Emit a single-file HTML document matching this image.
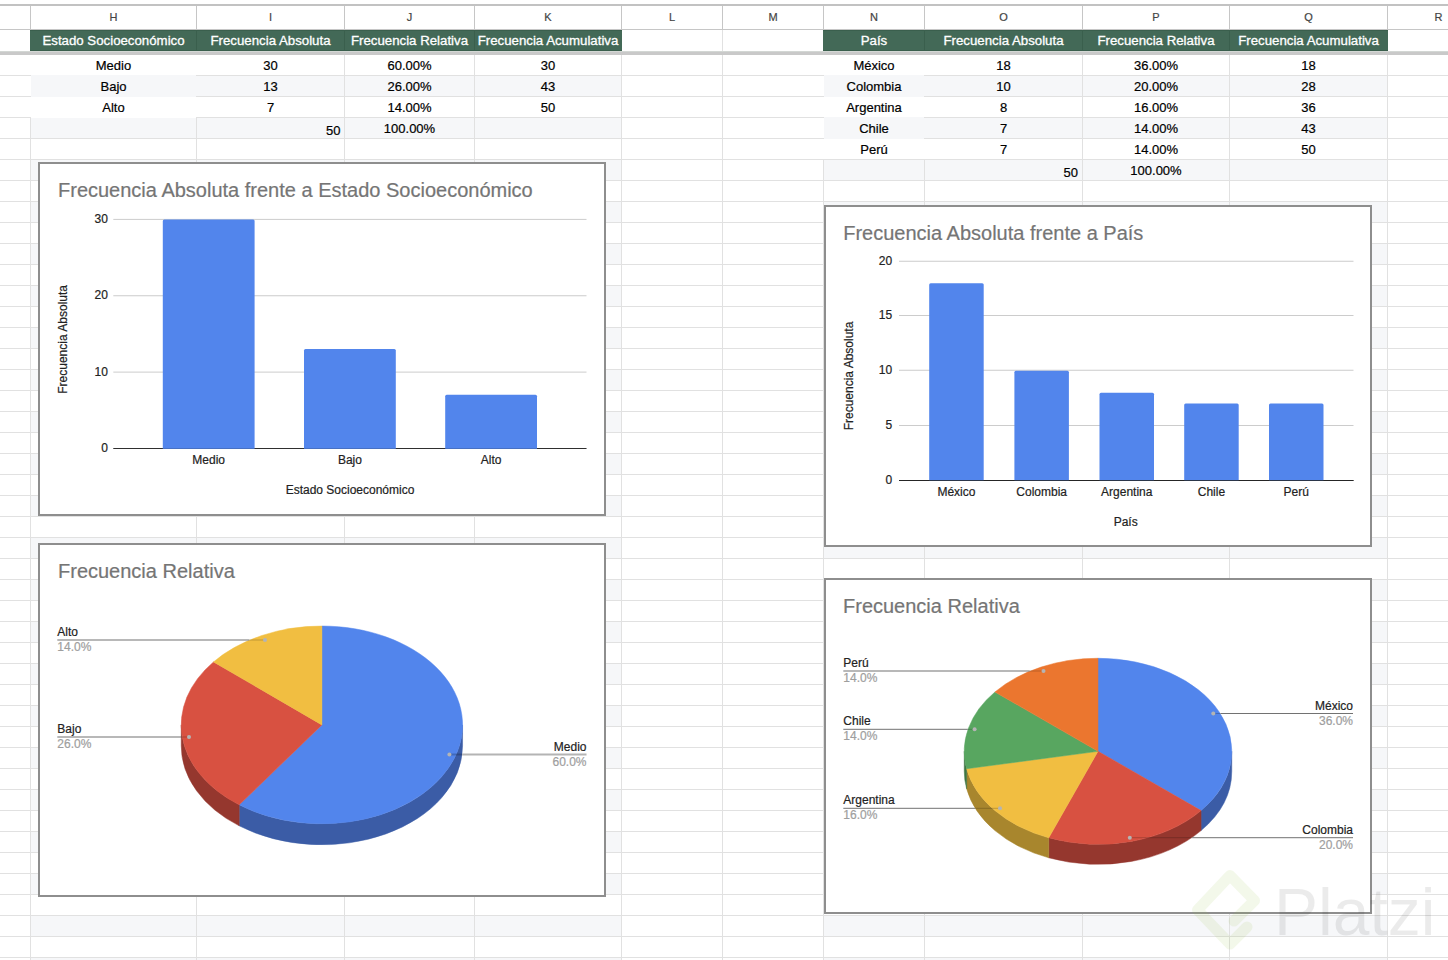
<!DOCTYPE html>
<html><head><meta charset="utf-8"><style>
html,body{margin:0;padding:0;background:#fff;overflow:hidden;}
svg{display:block;font-family:"Liberation Sans",sans-serif;}
</style></head><body>
<svg width="1448" height="960" viewBox="0 0 1448 960">
<rect x="0" y="0" width="1448" height="960" fill="#fff"/>
<rect x="0" y="4" width="1448" height="2" fill="#c2c2c2" shape-rendering="crispEdges"/>
<rect x="0" y="29" width="1448" height="1" fill="#c6c6c6" shape-rendering="crispEdges"/>
<rect x="30" y="6" width="1" height="23" fill="#c6c6c6" shape-rendering="crispEdges"/>
<rect x="196" y="6" width="1" height="23" fill="#c6c6c6" shape-rendering="crispEdges"/>
<rect x="344" y="6" width="1" height="23" fill="#c6c6c6" shape-rendering="crispEdges"/>
<rect x="474" y="6" width="1" height="23" fill="#c6c6c6" shape-rendering="crispEdges"/>
<rect x="621" y="6" width="1" height="23" fill="#c6c6c6" shape-rendering="crispEdges"/>
<rect x="722" y="6" width="1" height="23" fill="#c6c6c6" shape-rendering="crispEdges"/>
<rect x="823" y="6" width="1" height="23" fill="#c6c6c6" shape-rendering="crispEdges"/>
<rect x="924" y="6" width="1" height="23" fill="#c6c6c6" shape-rendering="crispEdges"/>
<rect x="1082" y="6" width="1" height="23" fill="#c6c6c6" shape-rendering="crispEdges"/>
<rect x="1229" y="6" width="1" height="23" fill="#c6c6c6" shape-rendering="crispEdges"/>
<rect x="1387" y="6" width="1" height="23" fill="#c6c6c6" shape-rendering="crispEdges"/>
<rect x="31" y="76" width="590" height="20" fill="#f6f7f9" shape-rendering="crispEdges"/>
<rect x="824" y="76" width="563" height="20" fill="#f6f7f9" shape-rendering="crispEdges"/>
<rect x="31" y="118" width="590" height="20" fill="#f6f7f9" shape-rendering="crispEdges"/>
<rect x="824" y="118" width="563" height="20" fill="#f6f7f9" shape-rendering="crispEdges"/>
<rect x="31" y="160" width="590" height="20" fill="#f6f7f9" shape-rendering="crispEdges"/>
<rect x="824" y="160" width="563" height="20" fill="#f6f7f9" shape-rendering="crispEdges"/>
<rect x="31" y="202" width="590" height="20" fill="#f6f7f9" shape-rendering="crispEdges"/>
<rect x="824" y="202" width="563" height="20" fill="#f6f7f9" shape-rendering="crispEdges"/>
<rect x="31" y="244" width="590" height="20" fill="#f6f7f9" shape-rendering="crispEdges"/>
<rect x="824" y="244" width="563" height="20" fill="#f6f7f9" shape-rendering="crispEdges"/>
<rect x="31" y="286" width="590" height="20" fill="#f6f7f9" shape-rendering="crispEdges"/>
<rect x="824" y="286" width="563" height="20" fill="#f6f7f9" shape-rendering="crispEdges"/>
<rect x="31" y="328" width="590" height="20" fill="#f6f7f9" shape-rendering="crispEdges"/>
<rect x="824" y="328" width="563" height="20" fill="#f6f7f9" shape-rendering="crispEdges"/>
<rect x="31" y="370" width="590" height="20" fill="#f6f7f9" shape-rendering="crispEdges"/>
<rect x="824" y="370" width="563" height="20" fill="#f6f7f9" shape-rendering="crispEdges"/>
<rect x="31" y="412" width="590" height="20" fill="#f6f7f9" shape-rendering="crispEdges"/>
<rect x="824" y="412" width="563" height="20" fill="#f6f7f9" shape-rendering="crispEdges"/>
<rect x="31" y="454" width="590" height="20" fill="#f6f7f9" shape-rendering="crispEdges"/>
<rect x="824" y="454" width="563" height="20" fill="#f6f7f9" shape-rendering="crispEdges"/>
<rect x="31" y="496" width="590" height="20" fill="#f6f7f9" shape-rendering="crispEdges"/>
<rect x="824" y="496" width="563" height="20" fill="#f6f7f9" shape-rendering="crispEdges"/>
<rect x="31" y="538" width="590" height="20" fill="#f6f7f9" shape-rendering="crispEdges"/>
<rect x="824" y="538" width="563" height="20" fill="#f6f7f9" shape-rendering="crispEdges"/>
<rect x="31" y="580" width="590" height="20" fill="#f6f7f9" shape-rendering="crispEdges"/>
<rect x="824" y="580" width="563" height="20" fill="#f6f7f9" shape-rendering="crispEdges"/>
<rect x="31" y="622" width="590" height="20" fill="#f6f7f9" shape-rendering="crispEdges"/>
<rect x="824" y="622" width="563" height="20" fill="#f6f7f9" shape-rendering="crispEdges"/>
<rect x="31" y="664" width="590" height="20" fill="#f6f7f9" shape-rendering="crispEdges"/>
<rect x="824" y="664" width="563" height="20" fill="#f6f7f9" shape-rendering="crispEdges"/>
<rect x="31" y="706" width="590" height="20" fill="#f6f7f9" shape-rendering="crispEdges"/>
<rect x="824" y="706" width="563" height="20" fill="#f6f7f9" shape-rendering="crispEdges"/>
<rect x="31" y="748" width="590" height="20" fill="#f6f7f9" shape-rendering="crispEdges"/>
<rect x="824" y="748" width="563" height="20" fill="#f6f7f9" shape-rendering="crispEdges"/>
<rect x="31" y="790" width="590" height="20" fill="#f6f7f9" shape-rendering="crispEdges"/>
<rect x="824" y="790" width="563" height="20" fill="#f6f7f9" shape-rendering="crispEdges"/>
<rect x="31" y="832" width="590" height="20" fill="#f6f7f9" shape-rendering="crispEdges"/>
<rect x="824" y="832" width="563" height="20" fill="#f6f7f9" shape-rendering="crispEdges"/>
<rect x="31" y="874" width="590" height="20" fill="#f6f7f9" shape-rendering="crispEdges"/>
<rect x="824" y="874" width="563" height="20" fill="#f6f7f9" shape-rendering="crispEdges"/>
<rect x="31" y="916" width="590" height="20" fill="#f6f7f9" shape-rendering="crispEdges"/>
<rect x="824" y="916" width="563" height="20" fill="#f6f7f9" shape-rendering="crispEdges"/>
<rect x="31" y="958" width="590" height="20" fill="#f6f7f9" shape-rendering="crispEdges"/>
<rect x="824" y="958" width="563" height="20" fill="#f6f7f9" shape-rendering="crispEdges"/>
<rect x="0" y="75" width="31" height="1" fill="#e1e1e1" shape-rendering="crispEdges"/>
<rect x="196" y="75" width="628" height="1" fill="#e1e1e1" shape-rendering="crispEdges"/>
<rect x="924" y="75" width="524" height="1" fill="#e1e1e1" shape-rendering="crispEdges"/>
<rect x="0" y="96" width="31" height="1" fill="#e1e1e1" shape-rendering="crispEdges"/>
<rect x="196" y="96" width="628" height="1" fill="#e1e1e1" shape-rendering="crispEdges"/>
<rect x="924" y="96" width="524" height="1" fill="#e1e1e1" shape-rendering="crispEdges"/>
<rect x="0" y="117" width="31" height="1" fill="#e1e1e1" shape-rendering="crispEdges"/>
<rect x="196" y="117" width="628" height="1" fill="#e1e1e1" shape-rendering="crispEdges"/>
<rect x="924" y="117" width="524" height="1" fill="#e1e1e1" shape-rendering="crispEdges"/>
<rect x="0" y="138" width="824" height="1" fill="#e1e1e1" shape-rendering="crispEdges"/>
<rect x="924" y="138" width="524" height="1" fill="#e1e1e1" shape-rendering="crispEdges"/>
<rect x="0" y="159" width="1448" height="1" fill="#e1e1e1" shape-rendering="crispEdges"/>
<rect x="0" y="180" width="1448" height="1" fill="#e1e1e1" shape-rendering="crispEdges"/>
<rect x="0" y="201" width="1448" height="1" fill="#e1e1e1" shape-rendering="crispEdges"/>
<rect x="0" y="222" width="1448" height="1" fill="#e1e1e1" shape-rendering="crispEdges"/>
<rect x="0" y="243" width="1448" height="1" fill="#e1e1e1" shape-rendering="crispEdges"/>
<rect x="0" y="264" width="1448" height="1" fill="#e1e1e1" shape-rendering="crispEdges"/>
<rect x="0" y="285" width="1448" height="1" fill="#e1e1e1" shape-rendering="crispEdges"/>
<rect x="0" y="306" width="1448" height="1" fill="#e1e1e1" shape-rendering="crispEdges"/>
<rect x="0" y="327" width="1448" height="1" fill="#e1e1e1" shape-rendering="crispEdges"/>
<rect x="0" y="348" width="1448" height="1" fill="#e1e1e1" shape-rendering="crispEdges"/>
<rect x="0" y="369" width="1448" height="1" fill="#e1e1e1" shape-rendering="crispEdges"/>
<rect x="0" y="390" width="1448" height="1" fill="#e1e1e1" shape-rendering="crispEdges"/>
<rect x="0" y="411" width="1448" height="1" fill="#e1e1e1" shape-rendering="crispEdges"/>
<rect x="0" y="432" width="1448" height="1" fill="#e1e1e1" shape-rendering="crispEdges"/>
<rect x="0" y="453" width="1448" height="1" fill="#e1e1e1" shape-rendering="crispEdges"/>
<rect x="0" y="474" width="1448" height="1" fill="#e1e1e1" shape-rendering="crispEdges"/>
<rect x="0" y="495" width="1448" height="1" fill="#e1e1e1" shape-rendering="crispEdges"/>
<rect x="0" y="516" width="1448" height="1" fill="#e1e1e1" shape-rendering="crispEdges"/>
<rect x="0" y="537" width="1448" height="1" fill="#e1e1e1" shape-rendering="crispEdges"/>
<rect x="0" y="558" width="1448" height="1" fill="#e1e1e1" shape-rendering="crispEdges"/>
<rect x="0" y="579" width="1448" height="1" fill="#e1e1e1" shape-rendering="crispEdges"/>
<rect x="0" y="600" width="1448" height="1" fill="#e1e1e1" shape-rendering="crispEdges"/>
<rect x="0" y="621" width="1448" height="1" fill="#e1e1e1" shape-rendering="crispEdges"/>
<rect x="0" y="642" width="1448" height="1" fill="#e1e1e1" shape-rendering="crispEdges"/>
<rect x="0" y="663" width="1448" height="1" fill="#e1e1e1" shape-rendering="crispEdges"/>
<rect x="0" y="684" width="1448" height="1" fill="#e1e1e1" shape-rendering="crispEdges"/>
<rect x="0" y="705" width="1448" height="1" fill="#e1e1e1" shape-rendering="crispEdges"/>
<rect x="0" y="726" width="1448" height="1" fill="#e1e1e1" shape-rendering="crispEdges"/>
<rect x="0" y="747" width="1448" height="1" fill="#e1e1e1" shape-rendering="crispEdges"/>
<rect x="0" y="768" width="1448" height="1" fill="#e1e1e1" shape-rendering="crispEdges"/>
<rect x="0" y="789" width="1448" height="1" fill="#e1e1e1" shape-rendering="crispEdges"/>
<rect x="0" y="810" width="1448" height="1" fill="#e1e1e1" shape-rendering="crispEdges"/>
<rect x="0" y="831" width="1448" height="1" fill="#e1e1e1" shape-rendering="crispEdges"/>
<rect x="0" y="852" width="1448" height="1" fill="#e1e1e1" shape-rendering="crispEdges"/>
<rect x="0" y="873" width="1448" height="1" fill="#e1e1e1" shape-rendering="crispEdges"/>
<rect x="0" y="894" width="1448" height="1" fill="#e1e1e1" shape-rendering="crispEdges"/>
<rect x="0" y="915" width="1448" height="1" fill="#e1e1e1" shape-rendering="crispEdges"/>
<rect x="0" y="936" width="1448" height="1" fill="#e1e1e1" shape-rendering="crispEdges"/>
<rect x="0" y="957" width="1448" height="1" fill="#e1e1e1" shape-rendering="crispEdges"/>
<rect x="31" y="75" width="165" height="1" fill="#f6f7f9" shape-rendering="crispEdges"/>
<rect x="31" y="96" width="165" height="1" fill="#f6f7f9" shape-rendering="crispEdges"/>
<rect x="824" y="75" width="100" height="1" fill="#f6f7f9" shape-rendering="crispEdges"/>
<rect x="824" y="96" width="100" height="1" fill="#f6f7f9" shape-rendering="crispEdges"/>
<rect x="824" y="117" width="100" height="1" fill="#f6f7f9" shape-rendering="crispEdges"/>
<rect x="824" y="138" width="100" height="1" fill="#f6f7f9" shape-rendering="crispEdges"/>
<rect x="30" y="30" width="1" height="25" fill="#e1e1e1" shape-rendering="crispEdges"/>
<rect x="30" y="118" width="1" height="842" fill="#e1e1e1" shape-rendering="crispEdges"/>
<rect x="196" y="30" width="1" height="25" fill="#e1e1e1" shape-rendering="crispEdges"/>
<rect x="196" y="118" width="1" height="842" fill="#e1e1e1" shape-rendering="crispEdges"/>
<rect x="344" y="30" width="1" height="930" fill="#e1e1e1" shape-rendering="crispEdges"/>
<rect x="474" y="30" width="1" height="930" fill="#e1e1e1" shape-rendering="crispEdges"/>
<rect x="621" y="30" width="1" height="930" fill="#e1e1e1" shape-rendering="crispEdges"/>
<rect x="722" y="30" width="1" height="930" fill="#e1e1e1" shape-rendering="crispEdges"/>
<rect x="823" y="30" width="1" height="25" fill="#e1e1e1" shape-rendering="crispEdges"/>
<rect x="823" y="160" width="1" height="800" fill="#e1e1e1" shape-rendering="crispEdges"/>
<rect x="924" y="30" width="1" height="25" fill="#e1e1e1" shape-rendering="crispEdges"/>
<rect x="924" y="160" width="1" height="800" fill="#e1e1e1" shape-rendering="crispEdges"/>
<rect x="1082" y="30" width="1" height="930" fill="#e1e1e1" shape-rendering="crispEdges"/>
<rect x="1229" y="30" width="1" height="930" fill="#e1e1e1" shape-rendering="crispEdges"/>
<rect x="1387" y="30" width="1" height="930" fill="#e1e1e1" shape-rendering="crispEdges"/>
<rect x="30" y="30" width="592" height="21" fill="#436957" shape-rendering="crispEdges"/>
<rect x="823" y="30" width="565" height="21" fill="#436957" shape-rendering="crispEdges"/>
<rect x="30" y="30" width="592" height="1" fill="#3a5f4d" shape-rendering="crispEdges"/>
<rect x="30" y="50" width="592" height="1" fill="#3a5f4d" shape-rendering="crispEdges"/>
<rect x="823" y="30" width="565" height="1" fill="#3a5f4d" shape-rendering="crispEdges"/>
<rect x="823" y="50" width="565" height="1" fill="#3a5f4d" shape-rendering="crispEdges"/>
<rect x="196" y="31" width="1" height="19" fill="#3a5f4d" shape-rendering="crispEdges"/>
<rect x="344" y="31" width="1" height="19" fill="#3a5f4d" shape-rendering="crispEdges"/>
<rect x="474" y="31" width="1" height="19" fill="#3a5f4d" shape-rendering="crispEdges"/>
<rect x="924" y="31" width="1" height="19" fill="#3a5f4d" shape-rendering="crispEdges"/>
<rect x="1082" y="31" width="1" height="19" fill="#3a5f4d" shape-rendering="crispEdges"/>
<rect x="1229" y="31" width="1" height="19" fill="#3a5f4d" shape-rendering="crispEdges"/>
<rect x="0" y="51" width="1448" height="1" fill="#d3d7d4" shape-rendering="crispEdges"/>
<rect x="0" y="52" width="1448" height="3" fill="#c9c9c9" shape-rendering="crispEdges"/>
<text x="113.5" y="21" font-size="11" fill="#444" text-anchor="middle" stroke="#444" stroke-width="0.2">H</text>
<text x="270.5" y="21" font-size="11" fill="#444" text-anchor="middle" stroke="#444" stroke-width="0.2">I</text>
<text x="409.5" y="21" font-size="11" fill="#444" text-anchor="middle" stroke="#444" stroke-width="0.2">J</text>
<text x="548.0" y="21" font-size="11" fill="#444" text-anchor="middle" stroke="#444" stroke-width="0.2">K</text>
<text x="672.0" y="21" font-size="11" fill="#444" text-anchor="middle" stroke="#444" stroke-width="0.2">L</text>
<text x="773.0" y="21" font-size="11" fill="#444" text-anchor="middle" stroke="#444" stroke-width="0.2">M</text>
<text x="874.0" y="21" font-size="11" fill="#444" text-anchor="middle" stroke="#444" stroke-width="0.2">N</text>
<text x="1003.5" y="21" font-size="11" fill="#444" text-anchor="middle" stroke="#444" stroke-width="0.2">O</text>
<text x="1156.0" y="21" font-size="11" fill="#444" text-anchor="middle" stroke="#444" stroke-width="0.2">P</text>
<text x="1308.5" y="21" font-size="11" fill="#444" text-anchor="middle" stroke="#444" stroke-width="0.2">Q</text>
<text x="1438.5" y="21" font-size="11" fill="#444" text-anchor="middle" stroke="#444" stroke-width="0.2">R</text>
<text x="113.5" y="45" font-size="13.25" fill="#ffffff" text-anchor="middle" stroke="#ffffff" stroke-width="0.3">Estado Socioeconómico</text>
<text x="270.5" y="45" font-size="13.25" fill="#ffffff" text-anchor="middle" stroke="#ffffff" stroke-width="0.3">Frecuencia Absoluta</text>
<text x="409.5" y="45" font-size="13.25" fill="#ffffff" text-anchor="middle" stroke="#ffffff" stroke-width="0.3">Frecuencia Relativa</text>
<text x="548.0" y="45" font-size="13.25" fill="#ffffff" text-anchor="middle" stroke="#ffffff" stroke-width="0.3">Frecuencia Acumulativa</text>
<text x="874.0" y="45" font-size="13.25" fill="#ffffff" text-anchor="middle" stroke="#ffffff" stroke-width="0.3">País</text>
<text x="1003.5" y="45" font-size="13.25" fill="#ffffff" text-anchor="middle" stroke="#ffffff" stroke-width="0.3">Frecuencia Absoluta</text>
<text x="1156.0" y="45" font-size="13.25" fill="#ffffff" text-anchor="middle" stroke="#ffffff" stroke-width="0.3">Frecuencia Relativa</text>
<text x="1308.5" y="45" font-size="13.25" fill="#ffffff" text-anchor="middle" stroke="#ffffff" stroke-width="0.3">Frecuencia Acumulativa</text>
<text x="113.5" y="70" font-size="13" fill="#000000" text-anchor="middle" stroke="#000000" stroke-width="0.2">Medio</text>
<text x="270.5" y="70" font-size="13" fill="#000000" text-anchor="middle" stroke="#000000" stroke-width="0.2">30</text>
<text x="409.5" y="70" font-size="13" fill="#000000" text-anchor="middle" stroke="#000000" stroke-width="0.2">60.00%</text>
<text x="548.0" y="70" font-size="13" fill="#000000" text-anchor="middle" stroke="#000000" stroke-width="0.2">30</text>
<text x="113.5" y="91" font-size="13" fill="#000000" text-anchor="middle" stroke="#000000" stroke-width="0.2">Bajo</text>
<text x="270.5" y="91" font-size="13" fill="#000000" text-anchor="middle" stroke="#000000" stroke-width="0.2">13</text>
<text x="409.5" y="91" font-size="13" fill="#000000" text-anchor="middle" stroke="#000000" stroke-width="0.2">26.00%</text>
<text x="548.0" y="91" font-size="13" fill="#000000" text-anchor="middle" stroke="#000000" stroke-width="0.2">43</text>
<text x="113.5" y="112" font-size="13" fill="#000000" text-anchor="middle" stroke="#000000" stroke-width="0.2">Alto</text>
<text x="270.5" y="112" font-size="13" fill="#000000" text-anchor="middle" stroke="#000000" stroke-width="0.2">7</text>
<text x="409.5" y="112" font-size="13" fill="#000000" text-anchor="middle" stroke="#000000" stroke-width="0.2">14.00%</text>
<text x="548.0" y="112" font-size="13" fill="#000000" text-anchor="middle" stroke="#000000" stroke-width="0.2">50</text>
<text x="340.5" y="134.5" font-size="13" fill="#000000" text-anchor="end" stroke="#000000" stroke-width="0.2">50</text>
<text x="409.5" y="133" font-size="13" fill="#000000" text-anchor="middle" stroke="#000000" stroke-width="0.2">100.00%</text>
<text x="874.0" y="70" font-size="13" fill="#000000" text-anchor="middle" stroke="#000000" stroke-width="0.2">México</text>
<text x="1003.5" y="70" font-size="13" fill="#000000" text-anchor="middle" stroke="#000000" stroke-width="0.2">18</text>
<text x="1156.0" y="70" font-size="13" fill="#000000" text-anchor="middle" stroke="#000000" stroke-width="0.2">36.00%</text>
<text x="1308.5" y="70" font-size="13" fill="#000000" text-anchor="middle" stroke="#000000" stroke-width="0.2">18</text>
<text x="874.0" y="91" font-size="13" fill="#000000" text-anchor="middle" stroke="#000000" stroke-width="0.2">Colombia</text>
<text x="1003.5" y="91" font-size="13" fill="#000000" text-anchor="middle" stroke="#000000" stroke-width="0.2">10</text>
<text x="1156.0" y="91" font-size="13" fill="#000000" text-anchor="middle" stroke="#000000" stroke-width="0.2">20.00%</text>
<text x="1308.5" y="91" font-size="13" fill="#000000" text-anchor="middle" stroke="#000000" stroke-width="0.2">28</text>
<text x="874.0" y="112" font-size="13" fill="#000000" text-anchor="middle" stroke="#000000" stroke-width="0.2">Argentina</text>
<text x="1003.5" y="112" font-size="13" fill="#000000" text-anchor="middle" stroke="#000000" stroke-width="0.2">8</text>
<text x="1156.0" y="112" font-size="13" fill="#000000" text-anchor="middle" stroke="#000000" stroke-width="0.2">16.00%</text>
<text x="1308.5" y="112" font-size="13" fill="#000000" text-anchor="middle" stroke="#000000" stroke-width="0.2">36</text>
<text x="874.0" y="133" font-size="13" fill="#000000" text-anchor="middle" stroke="#000000" stroke-width="0.2">Chile</text>
<text x="1003.5" y="133" font-size="13" fill="#000000" text-anchor="middle" stroke="#000000" stroke-width="0.2">7</text>
<text x="1156.0" y="133" font-size="13" fill="#000000" text-anchor="middle" stroke="#000000" stroke-width="0.2">14.00%</text>
<text x="1308.5" y="133" font-size="13" fill="#000000" text-anchor="middle" stroke="#000000" stroke-width="0.2">43</text>
<text x="874.0" y="154" font-size="13" fill="#000000" text-anchor="middle" stroke="#000000" stroke-width="0.2">Perú</text>
<text x="1003.5" y="154" font-size="13" fill="#000000" text-anchor="middle" stroke="#000000" stroke-width="0.2">7</text>
<text x="1156.0" y="154" font-size="13" fill="#000000" text-anchor="middle" stroke="#000000" stroke-width="0.2">14.00%</text>
<text x="1308.5" y="154" font-size="13" fill="#000000" text-anchor="middle" stroke="#000000" stroke-width="0.2">50</text>
<text x="1078" y="176.5" font-size="13" fill="#000000" text-anchor="end" stroke="#000000" stroke-width="0.2">50</text>
<text x="1156.0" y="175" font-size="13" fill="#000000" text-anchor="middle" stroke="#000000" stroke-width="0.2">100.00%</text>
<rect x="38" y="162" width="568" height="354" fill="#8e8e8e" shape-rendering="crispEdges"/>
<rect x="40" y="164" width="564" height="350" fill="#ffffff" shape-rendering="crispEdges"/>
<text x="58.0" y="196.8" font-size="20" fill="#757575" text-anchor="start" stroke="#757575" stroke-width="0.2">Frecuencia Absoluta frente a Estado Socioeconómico</text>
<rect x="113.3" y="218.9" width="473.2" height="1" fill="#cccccc"/>
<rect x="113.3" y="295.25" width="473.2" height="1" fill="#cccccc"/>
<rect x="113.3" y="371.6" width="473.2" height="1" fill="#cccccc"/>
<text x="107.9" y="222.85" font-size="12" fill="#222" text-anchor="end" stroke="#222" stroke-width="0.2">30</text>
<text x="107.9" y="299.2" font-size="12" fill="#222" text-anchor="end" stroke="#222" stroke-width="0.2">20</text>
<text x="107.9" y="375.55" font-size="12" fill="#222" text-anchor="end" stroke="#222" stroke-width="0.2">10</text>
<text x="107.9" y="451.7" font-size="12" fill="#222" text-anchor="end" stroke="#222" stroke-width="0.2">0</text>
<rect x="113.3" y="448" width="473.2" height="1" fill="#333"/>
<path d="M162.8,449 V220.9 Q162.8,219.4 164.3,219.4 H253.1 Q254.6,219.4 254.6,220.9 V449 Z" fill="#5285ec"/>
<text x="208.7" y="463.6" font-size="12" fill="#222" text-anchor="middle" stroke="#222" stroke-width="0.2">Medio</text>
<path d="M304,449 V350.6 Q304,349.1 305.5,349.1 H394.3 Q395.8,349.1 395.8,350.6 V449 Z" fill="#5285ec"/>
<text x="349.9" y="463.6" font-size="12" fill="#222" text-anchor="middle" stroke="#222" stroke-width="0.2">Bajo</text>
<path d="M445.2,449 V396.35 Q445.2,394.85 446.7,394.85 H535.5 Q537,394.85 537,396.35 V449 Z" fill="#5285ec"/>
<text x="491.1" y="463.6" font-size="12" fill="#222" text-anchor="middle" stroke="#222" stroke-width="0.2">Alto</text>
<rect x="113.3" y="448" width="473.2" height="1" fill="#222" opacity="0.2"/>
<text x="350" y="493.6" font-size="12" fill="#222" text-anchor="middle" stroke="#222" stroke-width="0.2">Estado Socioeconómico</text>
<text x="0" y="0" font-size="12" fill="#222" text-anchor="middle" stroke="#222" stroke-width="0.2" transform="translate(66.8,339.4) rotate(-90)">Frecuencia Absoluta</text>
<rect x="824" y="205" width="548" height="342" fill="#8e8e8e" shape-rendering="crispEdges"/>
<rect x="826" y="207" width="544" height="338" fill="#ffffff" shape-rendering="crispEdges"/>
<text x="843.2" y="239.8" font-size="20" fill="#757575" text-anchor="start" stroke="#757575" stroke-width="0.2">Frecuencia Absoluta frente a País</text>
<rect x="899" y="260.75" width="454.5" height="1" fill="#cccccc"/>
<rect x="899" y="315.0" width="454.5" height="1" fill="#cccccc"/>
<rect x="899" y="369.75" width="454.5" height="1" fill="#cccccc"/>
<rect x="899" y="425.0" width="454.5" height="1" fill="#cccccc"/>
<text x="892.2" y="264.7" font-size="12" fill="#222" text-anchor="end" stroke="#222" stroke-width="0.2">20</text>
<text x="892.2" y="318.95" font-size="12" fill="#222" text-anchor="end" stroke="#222" stroke-width="0.2">15</text>
<text x="892.2" y="373.7" font-size="12" fill="#222" text-anchor="end" stroke="#222" stroke-width="0.2">10</text>
<text x="892.2" y="428.95" font-size="12" fill="#222" text-anchor="end" stroke="#222" stroke-width="0.2">5</text>
<text x="892.2" y="483.7" font-size="12" fill="#222" text-anchor="end" stroke="#222" stroke-width="0.2">0</text>
<rect x="899" y="480" width="454.5" height="1" fill="#333"/>
<path d="M929.2,481 V284.65 Q929.2,283.15 930.7,283.15 H982.2 Q983.7,283.15 983.7,284.65 V481 Z" fill="#5285ec"/>
<text x="956.45" y="496.4" font-size="12" fill="#222" text-anchor="middle" stroke="#222" stroke-width="0.2">México</text>
<path d="M1014.4,481 V372.25 Q1014.4,370.75 1015.9,370.75 H1067.4 Q1068.9,370.75 1068.9,372.25 V481 Z" fill="#5285ec"/>
<text x="1041.65" y="496.4" font-size="12" fill="#222" text-anchor="middle" stroke="#222" stroke-width="0.2">Colombia</text>
<path d="M1099.5,481 V394.15 Q1099.5,392.65 1101.0,392.65 H1152.5 Q1154,392.65 1154,394.15 V481 Z" fill="#5285ec"/>
<text x="1126.75" y="496.4" font-size="12" fill="#222" text-anchor="middle" stroke="#222" stroke-width="0.2">Argentina</text>
<path d="M1184.2,481 V405.1 Q1184.2,403.6 1185.7,403.6 H1237.2 Q1238.7,403.6 1238.7,405.1 V481 Z" fill="#5285ec"/>
<text x="1211.45" y="496.4" font-size="12" fill="#222" text-anchor="middle" stroke="#222" stroke-width="0.2">Chile</text>
<path d="M1269,481 V405.1 Q1269,403.6 1270.5,403.6 H1322.0 Q1323.5,403.6 1323.5,405.1 V481 Z" fill="#5285ec"/>
<text x="1296.25" y="496.4" font-size="12" fill="#222" text-anchor="middle" stroke="#222" stroke-width="0.2">Perú</text>
<rect x="899" y="480" width="454.5" height="1" fill="#222" opacity="0.8"/>
<text x="1125.7" y="526" font-size="12" fill="#222" text-anchor="middle" stroke="#222" stroke-width="0.2">País</text>
<text x="0" y="0" font-size="12" fill="#222" text-anchor="middle" stroke="#222" stroke-width="0.2" transform="translate(852.6,376) rotate(-90)">Frecuencia Absoluta</text>
<rect x="38" y="543" width="568" height="354" fill="#8e8e8e" shape-rendering="crispEdges"/>
<rect x="40" y="545" width="564" height="350" fill="#ffffff" shape-rendering="crispEdges"/>
<text x="58.0" y="577.8" font-size="20" fill="#757575" text-anchor="start" stroke="#757575" stroke-width="0.2">Frecuencia Relativa</text>
<path d="M462.55,724.90 A140.65,98.85 0 0 1 239.23,804.87 L239.23,825.87 A140.65,98.85 0 0 0 462.55,745.90 Z" fill="#3b5ca6" stroke="#3b5ca6" stroke-width="0.5" stroke-linejoin="round"/>
<path d="M239.23,804.87 A140.65,98.85 0 0 1 181.25,724.90 L181.25,745.90 A140.65,98.85 0 0 0 239.23,825.87 Z" fill="#95372e" stroke="#95372e" stroke-width="0.5" stroke-linejoin="round"/>
<path d="M321.9,724.9 L321.90,626.05 A140.65,98.85 0 1 1 239.23,804.87 Z" fill="#5285ec" stroke="#5285ec" stroke-width="0.5" stroke-linejoin="round"/>
<path d="M321.9,724.9 L239.23,804.87 A140.65,98.85 0 0 1 213.53,661.89 Z" fill="#d85141" stroke="#d85141" stroke-width="0.5" stroke-linejoin="round"/>
<path d="M321.9,724.9 L213.53,661.89 A140.65,98.85 0 0 1 321.90,626.05 Z" fill="#f1be41" stroke="#f1be41" stroke-width="0.5" stroke-linejoin="round"/>
<text x="57.3" y="636" font-size="12" fill="#222" text-anchor="start" stroke="#222" stroke-width="0.2">Alto</text>
<text x="57.3" y="651" font-size="12" fill="#9e9e9e" text-anchor="start" stroke="#9e9e9e" stroke-width="0.2">14.0%</text>
<rect x="57.3" y="639.5" width="191.92" height="1" fill="#727272"/>
<rect x="249.22" y="639.5" width="15.78" height="1" fill="rgba(0,0,0,0.2)"/>
<circle cx="265" cy="640.0" r="2" fill="#b4b4b4"/>
<text x="57.3" y="733.3" font-size="12" fill="#222" text-anchor="start" stroke="#222" stroke-width="0.2">Bajo</text>
<text x="57.3" y="748.3" font-size="12" fill="#9e9e9e" text-anchor="start" stroke="#9e9e9e" stroke-width="0.2">26.0%</text>
<rect x="57.3" y="736.5" width="123.70" height="1" fill="#727272"/>
<rect x="181.00" y="736.5" width="8.00" height="1" fill="rgba(0,0,0,0.2)"/>
<circle cx="189" cy="737.0" r="2" fill="#b4b4b4"/>
<text x="586.5" y="750.7" font-size="12" fill="#222" text-anchor="end" stroke="#222" stroke-width="0.2">Medio</text>
<text x="586.5" y="765.7" font-size="12" fill="#9e9e9e" text-anchor="end" stroke="#9e9e9e" stroke-width="0.2">60.0%</text>
<rect x="462.27" y="753.5" width="124.23" height="2" fill="#b4b4b4"/>
<rect x="449.4" y="753.5" width="12.87" height="2" fill="rgba(0,0,0,0.2)"/>
<circle cx="449.4" cy="754.5" r="2" fill="#b4b4b4"/>
<rect x="824" y="578" width="548" height="336" fill="#8e8e8e" shape-rendering="crispEdges"/>
<rect x="826" y="580" width="544" height="332" fill="#ffffff" shape-rendering="crispEdges"/>
<text x="843.0" y="612.8" font-size="20" fill="#757575" text-anchor="start" stroke="#757575" stroke-width="0.2">Frecuencia Relativa</text>
<path d="M1231.75,751.30 A133.75,93.05 0 0 1 1201.06,810.61 L1201.06,830.61 A133.75,93.05 0 0 0 1231.75,771.30 Z" fill="#3b5ca6" stroke="#3b5ca6" stroke-width="0.5" stroke-linejoin="round"/>
<path d="M1201.06,810.61 A133.75,93.05 0 0 1 1048.76,837.82 L1048.76,857.82 A133.75,93.05 0 0 0 1201.06,830.61 Z" fill="#95372e" stroke="#95372e" stroke-width="0.5" stroke-linejoin="round"/>
<path d="M1048.76,837.82 A133.75,93.05 0 0 1 966.62,768.74 L966.62,788.74 A133.75,93.05 0 0 0 1048.76,857.82 Z" fill="#a8862d" stroke="#a8862d" stroke-width="0.5" stroke-linejoin="round"/>
<path d="M966.62,768.74 A133.75,93.05 0 0 1 964.25,751.30 L964.25,771.30 A133.75,93.05 0 0 0 966.62,788.74 Z" fill="#3e7643" stroke="#3e7643" stroke-width="0.5" stroke-linejoin="round"/>
<path d="M1098,751.3 L1098.00,658.25 A133.75,93.05 0 0 1 1201.06,810.61 Z" fill="#5285ec" stroke="#5285ec" stroke-width="0.5" stroke-linejoin="round"/>
<path d="M1098,751.3 L1201.06,810.61 A133.75,93.05 0 0 1 1048.76,837.82 Z" fill="#d85141" stroke="#d85141" stroke-width="0.5" stroke-linejoin="round"/>
<path d="M1098,751.3 L1048.76,837.82 A133.75,93.05 0 0 1 966.62,768.74 Z" fill="#f1be41" stroke="#f1be41" stroke-width="0.5" stroke-linejoin="round"/>
<path d="M1098,751.3 L966.62,768.74 A133.75,93.05 0 0 1 994.94,691.99 Z" fill="#58a660" stroke="#58a660" stroke-width="0.5" stroke-linejoin="round"/>
<path d="M1098,751.3 L994.94,691.99 A133.75,93.05 0 0 1 1098.00,658.25 Z" fill="#eb762f" stroke="#eb762f" stroke-width="0.5" stroke-linejoin="round"/>
<text x="843.3" y="667" font-size="12" fill="#222" text-anchor="start" stroke="#222" stroke-width="0.2">Perú</text>
<text x="843.3" y="682" font-size="12" fill="#9e9e9e" text-anchor="start" stroke="#9e9e9e" stroke-width="0.2">14.0%</text>
<rect x="843.3" y="670.5" width="186.47" height="1" fill="#727272"/>
<rect x="1029.77" y="670.5" width="13.73" height="1" fill="rgba(0,0,0,0.2)"/>
<circle cx="1043.5" cy="671.0" r="2" fill="#b4b4b4"/>
<text x="843.3" y="725" font-size="12" fill="#222" text-anchor="start" stroke="#222" stroke-width="0.2">Chile</text>
<text x="843.3" y="740" font-size="12" fill="#9e9e9e" text-anchor="start" stroke="#9e9e9e" stroke-width="0.2">14.0%</text>
<rect x="843.3" y="728.8" width="124.48" height="1" fill="#727272"/>
<rect x="967.78" y="728.8" width="6.82" height="1" fill="rgba(0,0,0,0.2)"/>
<circle cx="974.6" cy="729.3" r="2" fill="#b4b4b4"/>
<text x="843.3" y="804" font-size="12" fill="#222" text-anchor="start" stroke="#222" stroke-width="0.2">Argentina</text>
<text x="843.3" y="819" font-size="12" fill="#9e9e9e" text-anchor="start" stroke="#9e9e9e" stroke-width="0.2">16.0%</text>
<rect x="843.3" y="807.8" width="131.69" height="1" fill="#727272"/>
<rect x="974.99" y="807.8" width="25.01" height="1" fill="rgba(0,0,0,0.2)"/>
<circle cx="1000" cy="808.3" r="2" fill="#b4b4b4"/>
<text x="1353" y="709.7" font-size="12" fill="#222" text-anchor="end" stroke="#222" stroke-width="0.2">México</text>
<text x="1353" y="724.7" font-size="12" fill="#9e9e9e" text-anchor="end" stroke="#9e9e9e" stroke-width="0.2">36.0%</text>
<rect x="1220.51" y="713.0" width="132.49" height="1" fill="#727272"/>
<rect x="1213.3" y="713.0" width="7.21" height="1" fill="rgba(0,0,0,0.2)"/>
<circle cx="1213.3" cy="713.5" r="2" fill="#b4b4b4"/>
<text x="1353" y="833.5" font-size="12" fill="#222" text-anchor="end" stroke="#222" stroke-width="0.2">Colombia</text>
<text x="1353" y="848.5" font-size="12" fill="#9e9e9e" text-anchor="end" stroke="#9e9e9e" stroke-width="0.2">20.0%</text>
<rect x="1192.14" y="837.2" width="160.86" height="1" fill="#727272"/>
<rect x="1129.8" y="837.2" width="62.34" height="1" fill="rgba(0,0,0,0.2)"/>
<circle cx="1129.8" cy="837.7" r="2" fill="#b4b4b4"/>
<g fill="none" stroke="rgba(150,190,60,0.11)" stroke-width="11" stroke-linejoin="round" stroke-linecap="round">
<polyline points="1247,927 1230,944 1197.5,910 1230,875.5 1254.5,900.5 1234,921"/>
</g>
<text x="1274" y="934.5" font-size="66" fill="rgba(0,0,0,0.08)" font-family="Liberation Sans">Platzi</text>
</svg>
</body></html>
